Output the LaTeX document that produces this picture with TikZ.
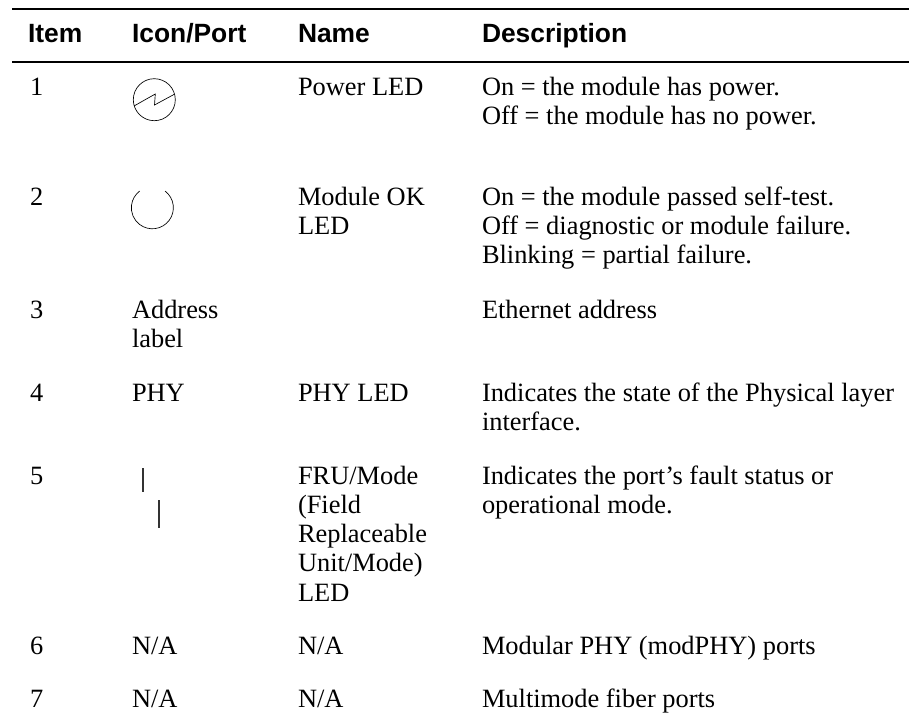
\documentclass[tikz,border=0pt]{standalone}
\usepackage{fontspec}
\setmainfont{Liberation Serif}
\newfontfamily\headfont{Liberation Sans}
\tikzset{
 x=0.75pt,y=-0.75pt,
 body/.style={anchor=base west,inner sep=0pt,outer sep=0pt,font=\fontsize{19.8pt}{24pt}\selectfont},
 head/.style={anchor=base west,inner sep=0pt,outer sep=0pt,font=\headfont\bfseries\fontsize{19.8pt}{24pt}\selectfont},
 rulethick/.style={line width=1.5pt,black},
 icon/.style={line width=0.5pt,black},
 bar/.style={line width=0.8pt,black!80}
}
\begin{document}
\begin{tikzpicture}
\useasboundingbox (0,0) rectangle (909,723);
\coordinate (t1) at (12,9); \coordinate (t2) at (909,9);
\coordinate (h1) at (12,62); \coordinate (h2) at (909,62);
\draw[rulethick] (t1) -- (t2);
\draw[rulethick] (h1) -- (h2);
\node[head] (hi) at (28,43) {Item};
\node[head] (hp) at (132,43) {Icon/Port};
\node[head] (hn) at (298,43) {Name};
\node[head] (hd) at (482,43) {Description};
% row 1
\node[body] (i1) at (30,96) {1};
\node[body] (n1) at (298,96) {Power LED};
\node[body] (d1a) at (482,96) {On = the module has power.};
\node[body] (d1b) at (482,125) {Off = the module has no power.};
\draw[icon] (154.3,99.7) circle (21);
\draw[icon] (134,106) -- (155.3,94) -- (154.5,105) -- (174.3,94.3);
% row 2
\node[body] (i2) at (30,206) {2};
\node[body] (n2a) at (298,206) {Module OK};
\node[body] (n2b) at (298,235) {LED};
\node[body] (d2a) at (482,206) {On = the module passed self-test.};
\node[body] (d2b) at (482,235) {Off = diagnostic or module failure.};
\node[body] (d2c) at (482,264) {Blinking = partial failure.};
\draw[icon] (165,191) arc[start angle=-53,end angle=233,radius=21];
% row 3
\node[body] (i3) at (30,318) {3};
\node[body] (p3a) at (132,318) {Address};
\node[body] (p3b) at (132,347) {label};
\node[body] (d3) at (482,318) {Ethernet address};
% row 4
\node[body] (i4) at (30,401) {4};
\node[body] (p4) at (132,401) {PHY};
\node[body] (n4) at (298,401) {PHY LED};
\node[body] (d4a) at (482,401) {Indicates the state of the Physical layer};
\node[body] (d4b) at (482,430) {interface.};
% row 5
\node[body] (i5) at (30,484) {5};
\draw[bar] (143,468) -- (143,492);
\draw[bar] (159,500) -- (159,527.5);
\node[body] (n5a) at (298,484) {FRU/Mode};
\node[body] (n5b) at (298,513) {(Field};
\node[body] (n5c) at (298,542) {Replaceable};
\node[body] (n5d) at (298,571) {Unit/Mode)};
\node[body] (n5e) at (298,601) {LED};
\node[body] (d5a) at (482,484) {Indicates the port's fault status or};
\node[body] (d5b) at (482,513) {operational mode.};
% row 6
\node[body] (i6) at (30,654) {6};
\node[body] (p6) at (132,654) {N/A};
\node[body] (n6) at (298,654) {N/A};
\node[body] (d6) at (482,654) {Modular PHY (modPHY) ports};
% row 7
\node[body] (i7) at (30,707) {7};
\node[body] (p7) at (132,707) {N/A};
\node[body] (n7) at (298,707) {N/A};
\node[body] (d7) at (482,707) {Multimode fiber ports};
\end{tikzpicture}
\end{document}
